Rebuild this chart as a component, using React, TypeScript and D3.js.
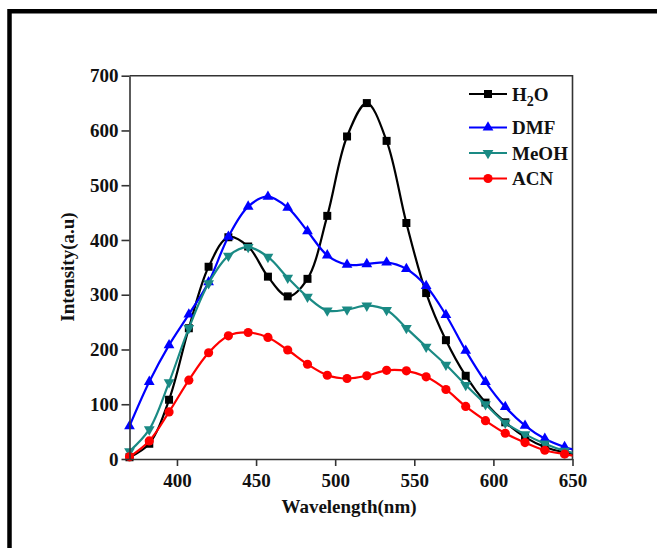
import React, { useEffect, useRef } from 'react';
import * as d3 from 'd3';

// emission spectra
const wavelength = [370, 382.5, 395, 407.5, 420, 432.5, 445, 457.5, 470, 482.5, 495, 507.5, 520, 532.5, 545, 557.5, 570, 582.5, 595, 607.5, 620, 632.5, 645, 657.5];
const h2o = [3, 28, 108, 239, 351, 405, 388, 333, 297, 329, 444, 589, 650, 581, 431, 303, 217, 152, 103, 67, 40, 22, 12, 6];
const dmf = [60, 141, 208, 264, 323, 406, 461, 479, 459, 416, 372, 355, 356, 359, 347, 316, 263, 198, 141, 95, 61, 37, 22, 12];
const meoh = [14, 54, 140, 239, 321, 371, 387, 369, 331, 296, 271, 273, 280, 272, 239, 205, 172, 135, 100, 66, 45, 28, 15, 7];
const acn = [4, 33, 86, 144, 194, 225, 231, 222, 199, 173, 153, 147, 152, 162, 161, 150, 127, 96, 70, 47, 30, 16, 9, 3];

const seriesNames = ['H2O', 'DMF', 'MeOH', 'ACN'];
const seriesColors = ['#000000', '#0000ff', '#1a8a84', '#ff0000'];
const seriesShapes = ['square', 'triUp', 'triDown', 'circle'];

const xTicks = [400, 450, 500, 550, 600, 650];
const yTicks = [0, 100, 200, 300, 400, 500, 600, 700];

const FONT = '"Liberation Serif", "Times New Roman", serif';

const App = () => {
  const xAxisRef = useRef<SVGGElement>(null);
  const yAxisRef = useRef<SVGGElement>(null);

  const left = 129.5, right = 572.5, top = 75.7, bottom = 459;
  const x = d3.scaleLinear().domain([370, 650]).range([left, right]);
  const y = d3.scaleLinear().domain([0, 700]).range([bottom, top]);

  const allSeries = [h2o, dmf, meoh, acn];

  const line = d3
    .line<number>()
    .x((d, i) => x(wavelength[i]))
    .y(d => y(d))
    .curve(d3.curveCatmullRom.alpha(0.5));

  const symbolPath = (shape: string) => {
    if (shape === 'square') return d3.symbol(d3.symbolSquare, 64)();
    if (shape === 'circle') return d3.symbol(d3.symbolCircle, 66)();
    return d3.symbol(d3.symbolTriangle, 50)();
  };

  useEffect(() => {
    const gx = d3.select(xAxisRef.current);
    gx.call(d3.axisBottom(x).tickValues(xTicks).tickSize(7).tickSizeOuter(0).tickPadding(8));
    const gy = d3.select(yAxisRef.current);
    gy.call(d3.axisLeft(y).tickValues(yTicks).tickSize(8).tickSizeOuter(0).tickPadding(3));
    [gx, gy].forEach(g => {
      g.selectAll('path').attr('stroke', '#333').attr('stroke-width', 1.6);
      g.selectAll('line').attr('stroke', '#333').attr('stroke-width', 1.6);
      g.selectAll('text')
        .attr('font-family', FONT)
        .attr('font-weight', 'bold')
        .attr('font-size', 19)
        .attr('fill', '#111');
    });
  }, []);

  const legendRows = [94, 127.5, 153, 178.5];

  return (
    <svg
      width={657}
      height={548}
      style={{ position: 'absolute', left: 0, top: 0, background: '#fff' }}
    >
      <defs>
        <clipPath id="plotClip">
          <rect x={left - 20} y={0} width={right - left + 20} height={548} />
        </clipPath>
      </defs>

      {/* outer frame */}
      <path d="M9.5,548 L9.5,11.3 L657,11.3" fill="none" stroke="#000" strokeWidth={4.5} />

      {/* box top and right */}
      <path
        d={`M${left},${top} L${right},${top} L${right},${bottom}`}
        fill="none"
        stroke="#333"
        strokeWidth={1.6}
      />

      <g clipPath="url(#plotClip)">
        {allSeries.map((s, k) => (
          <g key={seriesNames[k]}>
            <path d={line(s) || ''} fill="none" stroke={seriesColors[k]} strokeWidth={2.2} />
            {s.map((v, i) => (
              <path
                key={i}
                d={symbolPath(seriesShapes[k]) || ''}
                transform={`translate(${x(wavelength[i])},${y(v)})${seriesShapes[k] === 'triDown' ? ' rotate(180)' : ''}`}
                fill={seriesColors[k]}
              />
            ))}
          </g>
        ))}
      </g>

      <g ref={xAxisRef} transform={`translate(0,${bottom})`} />
      <g ref={yAxisRef} transform={`translate(${left},0)`} />

      <text
        x={349}
        y={513}
        textAnchor="middle"
        fontFamily={FONT}
        fontWeight="bold"
        fontSize={19}
        fill="#111"
      >
        Wavelength(nm)
      </text>
      <text
        transform="translate(73.5,267) rotate(-90)"
        textAnchor="middle"
        fontFamily={FONT}
        fontWeight="bold"
        fontSize={19}
        fill="#111"
      >
        Intensity(a.u)
      </text>

      {/* legend */}
      {seriesNames.map((name, k) => (
        <g key={name} transform={`translate(0,${legendRows[k]})`}>
          <line x1={469} x2={507} y1={0} y2={0} stroke={seriesColors[k]} strokeWidth={2.2} />
          <path
            d={symbolPath(seriesShapes[k]) || ''}
            transform={`translate(488,0)${seriesShapes[k] === 'triDown' ? ' rotate(180)' : ''}`}
            fill={seriesColors[k]}
          />
          <text x={512} y={6.5} fontFamily={FONT} fontWeight="bold" fontSize={19} fill="#111">
            {name === 'H2O' ? (
              <>
                H<tspan fontSize={14} dy={5}>2</tspan>
                <tspan dy={-5}>O</tspan>
              </>
            ) : (
              name
            )}
          </text>
        </g>
      ))}
    </svg>
  );
};

export default App;
